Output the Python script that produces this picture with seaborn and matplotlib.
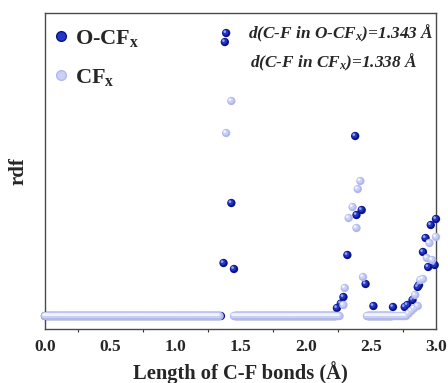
import numpy as np
import pandas as pd
import matplotlib
matplotlib.use("Agg")
import matplotlib.pyplot as plt
import matplotlib.transforms as mtransforms
from matplotlib.lines import Line2D
import seaborn as sns

sns.set_style("white")
plt.rcParams['font.family'] = ['Liberation Serif', 'DejaVu Serif']
plt.rcParams['font.weight'] = 'bold'
plt.rcParams['mathtext.fontset'] = 'custom'
plt.rcParams['mathtext.rm'] = 'Liberation Serif:bold'
plt.rcParams['mathtext.bf'] = 'Liberation Serif:bold'
plt.rcParams['mathtext.it'] = 'Liberation Serif:italic:bold'

# ---- data ----
# baseline (rdf = 0) segments: (start, stop) in Å, 0.01 step
ocfx_zero_segments = [(0.00, 1.35), (1.46, 2.23), (2.48, 2.66)]
cfx_zero_segments = [(0.00, 1.34), (1.45, 2.26), (2.47, 2.77)]

ocfx_peak_x = [1.37, 1.38, 1.39, 1.43, 1.45,
               2.24, 2.27, 2.29, 2.32, 2.38, 2.39, 2.43, 2.46, 2.52,
               2.67, 2.76, 2.78, 2.82, 2.86, 2.87, 2.90, 2.92, 2.94, 2.96, 2.99, 3.00]
ocfx_peak_y = [2.12, 10.96, 11.32, 4.52, 1.88,
               0.32, 0.50, 0.76, 2.44, 7.20, 4.04, 4.24, 1.28, 0.40,
               0.36, 0.36, 0.44, 0.64, 1.16, 1.24, 2.56, 3.12, 1.96, 3.64, 2.04, 3.88]

cfx_peak_x = [1.39, 1.43,
              2.29, 2.30, 2.33, 2.36, 2.39, 2.40, 2.42, 2.44,
              2.79, 2.81, 2.83, 2.84, 2.86, 2.88, 2.90, 2.93, 2.95, 2.97, 3.00]
cfx_peak_y = [7.32, 8.60,
              0.44, 1.12, 3.92, 4.36, 3.52, 5.08, 5.40, 1.56,
              0.10, 0.20, 0.30, 0.84, 0.40, 1.44, 1.48, 2.32, 2.92, 2.24, 3.16]

series_names = ["O-CF$_{\\mathrm{x}}$", "CF$_{\\mathrm{x}}$"]
xticks = [0.0, 0.5, 1.0, 1.5, 2.0, 2.5, 3.0]
xtick_labels = ["0.0", "0.5", "1.0", "1.5", "2.0", "2.5", "3.0"]


def build(zero_segments, px, py):
    xs, ys = [], []
    for a, b in zero_segments:
        seg = np.round(np.arange(a, b + 0.0001, 0.01), 2)
        xs.extend(seg)
        ys.extend([0.0] * len(seg))
    xs.extend(px)
    ys.extend(py)
    return pd.DataFrame({"x": xs, "rdf": ys})


df_o = build(ocfx_zero_segments, ocfx_peak_x, ocfx_peak_y)
df_c = build(cfx_zero_segments, cfx_peak_x, cfx_peak_y)

fig = plt.figure(figsize=(4.48, 3.83), dpi=100)
ax = fig.add_axes([0.1004, 0.141, 0.8728, 0.825])

dark = ["#0a1488", "#2436c4", "#9aa6f0"]
light = ["#b0b8ec", "#cbd1f6", "#f4f6ff"]

S = 36


def balls(df, cols, z):
    sns.scatterplot(data=df, x="x", y="rdf", ax=ax, s=S, color=cols[0],
                    edgecolor="none", linewidth=0, clip_on=False, zorder=z,
                    legend=False)
    t1 = mtransforms.offset_copy(ax.transData, fig=fig, x=-0.5, y=0.5, units='points')
    ax.scatter(df["x"], df["rdf"], s=S * 0.45, color=cols[1], edgecolor="none",
               transform=t1, clip_on=False, zorder=z + 0.1)
    t2 = mtransforms.offset_copy(ax.transData, fig=fig, x=-1.0, y=1.0, units='points')
    ax.scatter(df["x"], df["rdf"], s=S * 0.1, color=cols[2], edgecolor="none",
               transform=t2, clip_on=False, zorder=z + 0.2)


balls(df_o, dark, 3)
balls(df_c, light, 4)

ax.set_xlim(0, 3.0)
ax.set_ylim(-0.52, 12.12)
ax.set_xticks(xticks)
ax.set_xticklabels(xtick_labels)
ax.set_xticks(np.arange(0.25, 3.0, 0.5), minor=True)
ax.set_yticks([])
ax.tick_params(axis='x', which='major', direction='out', length=3.5, width=1,
               color="#333333", labelsize=12.5, pad=4)
ax.tick_params(axis='x', which='minor', direction='out', length=2, width=0.8,
               color="#333333", bottom=True)
for lab in ax.get_xticklabels():
    lab.set_fontweight('bold')
for sp in ax.spines.values():
    sp.set_color("#4a4a4a")
    sp.set_linewidth(1.0)

ax.set_xlabel("Length of C-F bonds (Å)", fontsize=14.8, fontweight='bold', labelpad=4)
ax.set_ylabel("rdf", fontsize=15, fontweight='bold', labelpad=12)

handles = [Line2D([], [], linestyle='none', marker='o', markersize=7,
                  markerfacecolor=dark[1], markeredgecolor=dark[0], markeredgewidth=1),
           Line2D([], [], linestyle='none', marker='o', markersize=7,
                  markerfacecolor=light[1], markeredgecolor=light[0], markeredgewidth=1)]
leg = ax.legend(handles, series_names, loc='upper left', frameon=False,
                prop={'family': 'Liberation Serif', 'weight': 'bold', 'size': 16},
                handletextpad=0.25, labelspacing=0.8, borderaxespad=0.0,
                handlelength=0.8, borderpad=0.0,
                bbox_to_anchor=(0.017, 0.953))

ax.text(0.519, 0.934, "d(C-F in O-CF$_{x}$)=1.343 Å", transform=ax.transAxes,
        fontsize=12.4, fontstyle='italic', fontweight='bold', va='center', ha='left')
ax.text(0.524, 0.845, "d(C-F in CF$_{x}$)=1.338 Å", transform=ax.transAxes,
        fontsize=12.4, fontstyle='italic', fontweight='bold', va='center', ha='left')

fig.savefig("out.png", dpi=100)
